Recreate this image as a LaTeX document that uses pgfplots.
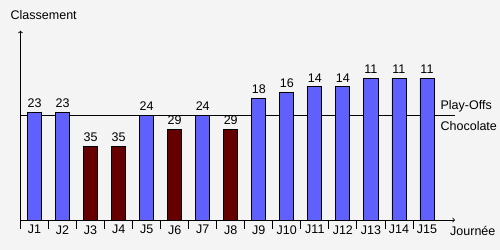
\documentclass[border=0pt]{standalone}
\usepackage{pgfplots}
\pgfplotsset{compat=1.18}
\usepackage{fontspec}
\setmainfont{Liberation Sans}
\definecolor{bg}{HTML}{F4F4F4}
\definecolor{bleu}{HTML}{6060FF}
\definecolor{rouge}{HTML}{660000}
\begin{document}
\begin{tikzpicture}
\fontsize{12.5bp}{15bp}\selectfont
\useasboundingbox (0,0) rectangle (500bp,250bp);
\fill[bg] (0,0) rectangle (500bp,250bp);
\begin{axis}[
  scale only axis,
  width=434.5bp, height=189.3bp,
  at={(20.5bp,30bp)}, anchor=south west,
  xmin=0.5, xmax=16, ymin=0, ymax=67.1,
  axis lines=left,
  axis line style={line width=0.8bp, -to},
  ytick=\empty,
  xtick={1,...,15},
  xticklabels={J1,J2,J3,J4,J5,J6,J7,J8,J9,J10,J11,J12,J13,J14,J15},
  minor xtick={0.5,1.5,...,14.5},
  major tick length=0pt,
  minor tick length=9bp,
  tick align=outside,
  tick style={black, line width=0.8bp},
  xticklabel style={font=\fontsize{12.5bp}{15bp}\selectfont, yshift=-1bp},
  /pgf/number format/assume math mode=true,
  bar width=0.5,
  bar shift=0pt,
  clip=false,
  nodes near coords,
  every node near coord/.append style={font=\fontsize{12.5bp}{15bp}\selectfont, black, /pgf/number format/assume math mode=true},
]
\addplot[black, line width=0.8bp, no markers, forget plot, nodes near coords=] coordinates {(0.5,37.2) (16,37.2)};
\addplot[ybar, fill=bleu, draw=black, line width=0.8bp, point meta=explicit]
  table[x=j, y expr=61.2-\thisrow{rank}, meta=rank] {
j rank
1 23
2 23
5 24
7 24
9 18
10 16
11 14
12 14
13 11
14 11
15 11
};
\addplot[ybar, fill=rouge, draw=black, line width=0.8bp, point meta=explicit]
  table[x=j, y expr=61.2-\thisrow{rank}, meta=rank] {
j rank
3 35
4 35
6 29
8 29
};
\node[anchor=base west, inner sep=0pt] at ([yshift=5.7bp]axis cs:15.48,37.2) {Play-Offs};
\node[anchor=base west, inner sep=0pt] at ([yshift=-15bp]axis cs:15.48,37.2) {Chocolate};
\end{axis}
\node[anchor=base west, inner sep=0pt] at (10.5bp,230bp) {Classement};
\node[anchor=base west, inner sep=0pt] at (450bp,15bp) {Journée};
\end{tikzpicture}
\end{document}
